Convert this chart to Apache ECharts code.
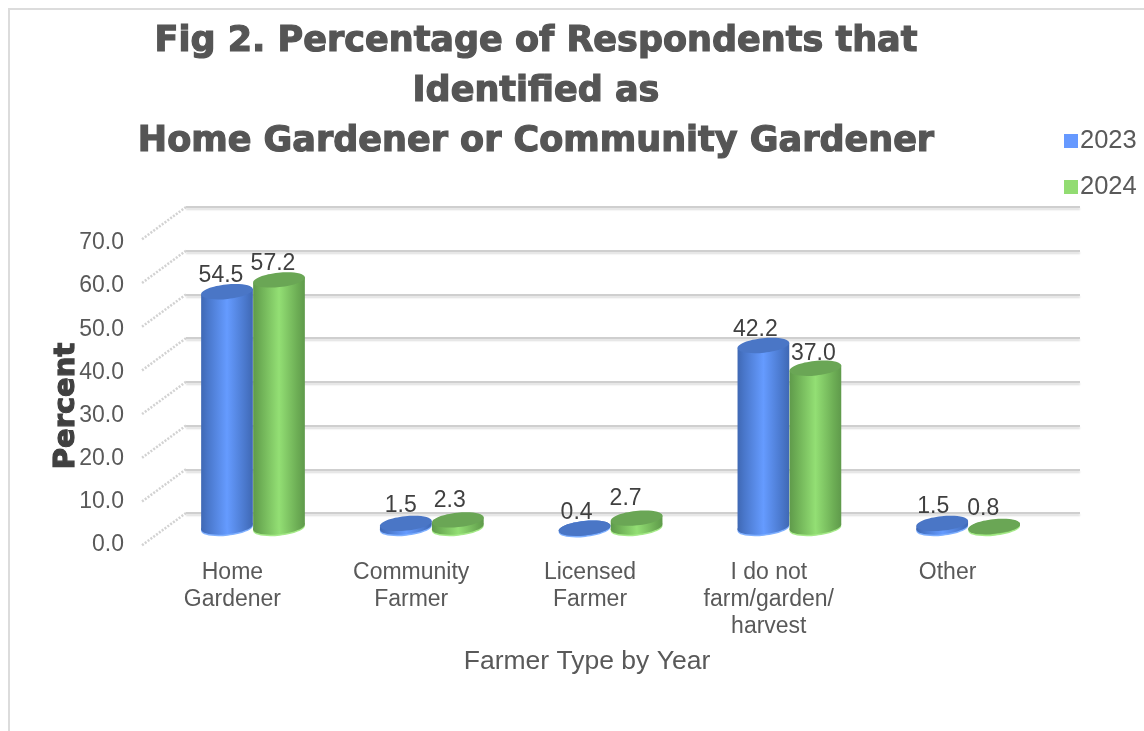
<!DOCTYPE html>
<html>
<head>
<meta charset="utf-8">
<style>html,body{margin:0;padding:0;background:#fff}#c{width:1144px;height:731px}</style>
<script src="https://cdn.jsdelivr.net/npm/echarts@6/dist/echarts.min.js"></script>
</head>
<body>
<div id="c"></div>
<script>
const categories = ['Home\nGardener', 'Community\nFarmer', 'Licensed\nFarmer', 'I do not\nfarm/garden/\nharvest', 'Other'];
const values2023 = [54.5, 1.5, 0.4, 42.2, 1.5];
const values2024 = [57.2, 2.3, 2.7, 37.0, 0.8];
const wallTicks = [0, 10, 20, 30, 40, 50, 60, 70];
const titleText = 'Fig 2. Percentage of Respondents that\nIdentified as\nHome Gardener or Community Gardener';

const TEXT = '#595959';
const FONT = '"Liberation Sans", Arial, sans-serif';
const HEAVY = '"DejaVu Sans", sans-serif';
const blue = {legend: '#6699ff', edge: '#3f68b4', edge2: '#4a78cc', mid: '#659bff', top: '#4a76c6', base: '#7fb0ff',
  nudge: [[-6, -16], [-5, -18], [-8, -16], [-8, -16], [-9, -17]]};
const green = {legend: '#92dc72', edge: '#5f9a4b', edge2: '#6dae55', mid: '#93df74', top: '#6aa655', base: '#a5ea88',
  nudge: [[-6, -16], [-8, -19], [-11, -20], [-2, -15], [-11, -18]]};
const DEPTH_X = -22.4, DEPTH_Y = 17, BASE_LIFT = 3, RX = 26, RY = 7.2, TILT = 6 * Math.PI / 180;

function cylinder(colors, shift) {
  return function (params, api) {
    const idx = api.value(0), val = api.value(1);
    const top = api.coord([idx, val]);
    const cx = top[0] + DEPTH_X + shift, cyTop = top[1] + DEPTH_Y;
    const cyBase = Math.max(cyTop, api.coord([idx, 0])[1] + DEPTH_Y - BASE_LIFT);
    const dy = RX * Math.sin(TILT), dx = RX * Math.cos(TILT);
    const n = colors.nudge[idx];
    const grad = new echarts.graphic.LinearGradient(0, 0, 1, 0, [
      {offset: 0, color: colors.edge}, {offset: 0.14, color: colors.edge2},
      {offset: 0.5, color: colors.mid}, {offset: 0.85, color: colors.edge2},
      {offset: 1, color: colors.edge}
    ]);
    return {
      type: 'group',
      children: [
        {type: 'ellipse', originX: cx, originY: cyBase + 1.5, rotation: TILT,
          shape: {cx: cx, cy: cyBase + 1.5, rx: RX, ry: RY}, style: {fill: colors.base}},
        {type: 'ellipse', originX: cx, originY: cyBase, rotation: TILT,
          shape: {cx: cx, cy: cyBase, rx: RX, ry: RY}, style: {fill: grad}},
        {type: 'polygon',
          shape: {points: [[cx - dx, cyTop + dy], [cx + dx, cyTop - dy], [cx + dx, cyBase - dy], [cx - dx, cyBase + dy]]},
          style: {fill: grad}},
        {type: 'ellipse', originX: cx, originY: cyTop, rotation: TILT,
          shape: {cx: cx, cy: cyTop, rx: RX, ry: RY}, style: {fill: colors.top}},
        {type: 'text', x: cx + n[0], y: cyTop + n[1], z2: 50,
          style: {text: val.toFixed(1), fill: '#404040', font: '23px ' + FONT, align: 'center', verticalAlign: 'middle'}}
      ]
    };
  };
}

function wallDiagonal(params, api) {
  const p = api.coord([0, api.value(0)]);
  const x = params.coordSys.x, y = p[1];
  return {
    type: 'line',
    shape: {x1: x, y1: y, x2: x - 45, y2: y + 33},
    style: {stroke: '#d2d2d2', lineWidth: 2.5, lineDash: [2, 1.5]}
  };
}

const chart = echarts.init(document.getElementById('c'), null, {renderer: 'canvas'});
chart.setOption({
  animation: false,
  backgroundColor: '#fff',
  title: {
    text: titleText, left: 531, top: 12, textAlign: 'center',
    textStyle: {fontFamily: HEAVY, fontWeight: 'bold', fontSize: 35, lineHeight: 50, color: '#555555',
      textBorderColor: '#555555', textBorderWidth: 1.2}
  },
  legend: {
    data: ['2023', '2024'], orient: 'vertical', left: 1059, top: 123, itemWidth: 14, itemHeight: 14,
    itemGap: 20, icon: 'rect', textStyle: {fontFamily: FONT, fontSize: 25.5, color: TEXT, padding: [0, 0, 0, -3]}
  },
  graphic: [{type: 'rect', shape: {x: 9, y: 9, width: 1300, height: 900}, silent: true, z: -10,
    style: {fill: 'none', stroke: '#dcdcdc', lineWidth: 2}}],
  grid: [
    {left: 186, right: 64, top: 207, height: 306},
    {left: 143, right: 107, top: 243, height: 302}
  ],
  xAxis: [
    {type: 'category', gridIndex: 0, data: categories, axisLine: {show: false}, axisTick: {show: false}, axisLabel: {show: false}},
    {type: 'category', gridIndex: 1, data: categories, axisLine: {show: false}, axisTick: {show: false},
      name: 'Farmer Type by Year', nameLocation: 'middle', nameGap: 103,
      nameTextStyle: {fontFamily: FONT, fontSize: 26.5, color: TEXT, padding: [0, 6, 0, 0]},
      axisLabel: {interval: 0, margin: 14, fontFamily: FONT, fontSize: 23, lineHeight: 27, color: TEXT, verticalAlign: 'top'}}
  ],
  yAxis: [
    {type: 'value', gridIndex: 0, min: 0, max: 70, interval: 10, axisLine: {show: false}, axisTick: {show: false}, axisLabel: {show: false},
      splitLine: {show: true, lineStyle: {color: '#cfcfcf', width: 2, shadowColor: 'rgba(0,0,0,0.14)', shadowBlur: 2, shadowOffsetY: 2}}},
    {type: 'value', gridIndex: 1, min: 0, max: 70, interval: 10, axisLine: {show: false}, axisTick: {show: false}, splitLine: {show: false},
      name: 'Percent', nameLocation: 'middle', nameGap: 62, nameRotate: 90, nameMoveOverlap: false,
      nameTextStyle: {fontFamily: HEAVY, fontWeight: 'bold', fontSize: 29, color: '#404040', padding: [0, 24, 0, 0],
        textBorderColor: '#404040', textBorderWidth: 1.2},
      axisLabel: {margin: 19, fontFamily: FONT, fontSize: 23, color: TEXT, formatter: v => v.toFixed(1)}}
  ],
  series: [
    {type: 'custom', name: 'wall', xAxisIndex: 0, yAxisIndex: 0, silent: true, clip: false,
      data: wallTicks.map(v => [v]), encode: {y: 0}, renderItem: wallDiagonal, z: 1},
    {type: 'custom', name: '2023', xAxisIndex: 0, yAxisIndex: 0, clip: false, itemStyle: {color: blue.legend},
      data: values2023.map((v, i) => [i, v]), encode: {x: 0, y: 1}, renderItem: cylinder(blue, -26), z: 2},
    {type: 'custom', name: '2024', xAxisIndex: 0, yAxisIndex: 0, clip: false, itemStyle: {color: green.legend},
      data: values2024.map((v, i) => [i, v]), encode: {x: 0, y: 1}, renderItem: cylinder(green, 26), z: 3}
  ]
});
</script>
</body>
</html>
